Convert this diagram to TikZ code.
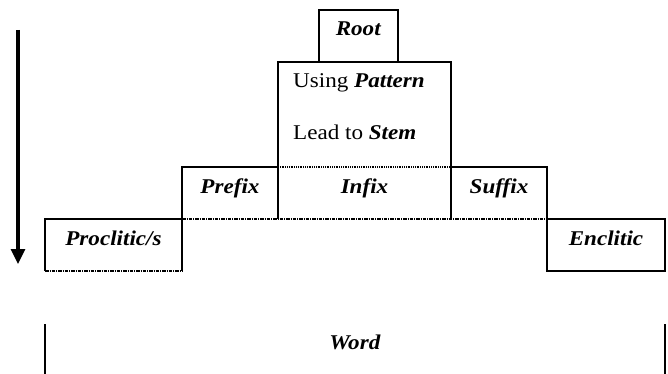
\documentclass[tikz,border=0pt]{standalone}
\usepackage{fontspec}
\setmainfont{Liberation Serif}[FakeStretch=1.1]
\usetikzlibrary{positioning,arrows.meta}
\newcommand\bi[1]{\textbf{\textit{#1}}}

\begin{document}
\begin{tikzpicture}[
  x=1pt,y=-1pt,
  >={Triangle[length=15pt,width=14pt]},
  every node/.style={font=\fontsize{21}{25}\selectfont},
  cell/.style={rectangle,inner sep=0pt,outer sep=0pt,minimum height=52pt,
    text height=14pt,text depth=14pt},
  edge/.style={line width=1.3pt},
  seam/.style={line width=1.3pt,dash pattern=on 1pt off 0.8pt},
  cut/.style={line width=1.3pt,dash pattern=on 3.5pt off 1pt on 1pt off 1pt},
  flow/.style={->,line width=3.2pt},
  node distance=0pt
]
  \useasboundingbox (0,0) rectangle (668,374);

  \node[cell,minimum width=173pt,minimum height=105pt] (stem) at (364.5,114.5) {};
  \node[cell,minimum width=79pt,above=of stem,xshift=-6pt] (root) {\bi{Root}};
  \node[anchor=base west,inner sep=0pt] (using) at ([xshift=15pt,yshift=-26pt]stem.north west) {Using \bi{Pattern}};
  \node[anchor=base west,inner sep=0pt] (lead) at ([xshift=15pt,yshift=-78pt]stem.north west) {Lead to \bi{Stem}};
  \node[cell,minimum width=173pt,below=of stem] (infix) {\bi{Infix}};
  \node[cell,minimum width=96pt,left=of infix] (prefix) {\bi{Prefix}};
  \node[cell,minimum width=96pt,right=of infix] (suffix) {\bi{Suffix}};
  \node[cell,minimum width=137pt,below left=of prefix.south west] (proclitic) {\bi{Proclitic/s}};
  \node[cell,minimum width=118pt,below right=of suffix.south east] (enclitic) {\bi{Enclitic}};
  \node[cell,minimum width=620pt,minimum height=50pt] (word) at (355,349) {\bi{Word}};

  \coordinate (downtop) at (18,30);
  \coordinate (downend) at (18,264);

  % borders
  \draw[edge] (root.south west) |- (root.north east) -- (root.south east);
  \draw[edge] (infix.south west) |- (stem.north east) -- (infix.south east);
  \draw[seam] (stem.south west) -- (stem.south east);
  \draw[edge] (proclitic.south east) |- (prefix.north east);
  \draw[edge] (suffix.north west) -| (suffix.south east);
  \draw[cut] (prefix.south west) -- (suffix.south east);
  \draw[edge] (proclitic.north east) -| (proclitic.south west);
  \draw[cut] (proclitic.south west) -- (proclitic.south east);
  \draw[edge] (enclitic.north west) rectangle (enclitic.south east);
  \draw[edge] (word.north west) -- (word.south west);
  \draw[edge] (word.north east) -- (word.south east);

  \draw[flow] (downtop) -- (downend);
\end{tikzpicture}
\end{document}
